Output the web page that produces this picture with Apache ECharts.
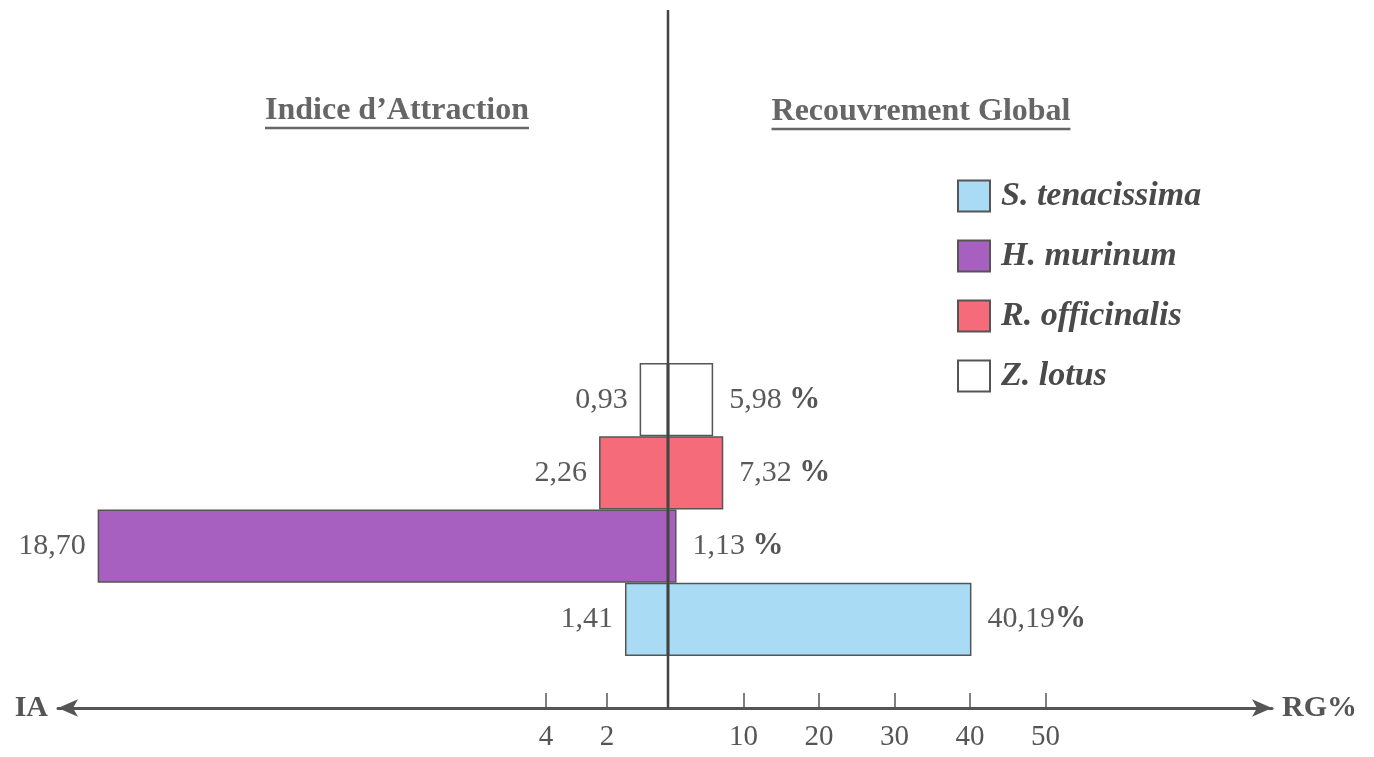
<!DOCTYPE html>
<html>
<head>
<meta charset="utf-8">
<script src="https://cdn.jsdelivr.net/npm/echarts@6/dist/echarts.min.js"></script>
<style>html,body{margin:0;padding:0;background:#fff;}#c{width:1374px;height:757px;}</style>
</head>
<body>
<div id="c"></div>
<script>
// ---- data ----
const categories = ['S. tenacissima', 'H. murinum', 'R. officinalis', 'Z. lotus'];
const iaValues = [1.41, 18.70, 2.26, 0.93];      // Indice d'Attraction (left)
const rgValues = [40.19, 1.13, 7.32, 5.98];      // Recouvrement Global % (right)
const colors = ['#A9DCF4', '#A760BF', '#F56B79', '#FFFFFF'];
const iaTicks = [2, 4];
const rgTicks = [10, 20, 30, 40, 50];
const titleLeft = 'Indice d\u2019Attraction';
const titleRight = 'Recouvrement Global';

const FONT = '"Liberation Serif", "Times New Roman", serif';
const fmt = v => v.toFixed(2).replace('.', ',');

const series = [];
categories.forEach((name, i) => {
  series.push({
    name, type: 'bar', xAxisIndex: 0, yAxisIndex: 0, stack: 'ia',
    barCategoryGap: '0%',
    data: categories.map((c, j) => j === i ? iaValues[i] : '-'),
    itemStyle: { color: colors[i], borderColor: '#555', borderWidth: 1.5 },
    label: { show: true, position: 'left', distance: 12,
      formatter: p => fmt(p.value),
      fontSize: 30, fontFamily: FONT, color: '#5a5a5a' }
  });
  series.push({
    name, type: 'bar', xAxisIndex: 1, yAxisIndex: 1, stack: 'rg',
    barCategoryGap: '0%',
    data: categories.map((c, j) => j === i ? rgValues[i] : '-'),
    itemStyle: { color: colors[i], borderColor: '#555', borderWidth: 1.5 },
    label: { show: true, position: 'right', distance: 16,
      formatter: p => '{n|' + fmt(p.value) + (p.value >= 10 ? '' : ' ') + '}{p|%}',
      rich: {
        n: { fontSize: 30, fontFamily: FONT, color: '#5a5a5a' },
        p: { fontSize: 31, fontFamily: FONT, color: '#555', fontWeight: 'bold' }
      } }
  });
});

const axisCommon = {
  type: 'value', min: 0, position: 'bottom', offset: 52,
  splitLine: { show: false },
  axisLine: { show: true, symbolSize: [13, 20],
    lineStyle: { color: '#555', width: 3 } },
  axisTick: { show: true, inside: true, length: 15, lineStyle: { color: '#555', width: 1.5 } },
  axisLabel: { fontSize: 29, fontFamily: FONT, color: '#555', margin: 15 },
  nameLocation: 'end', nameGap: 10,
  nameTextStyle: { fontSize: 30, fontWeight: 'bold', fontFamily: FONT, color: '#555' }
};

const chart = echarts.init(document.getElementById('c'), null, { renderer: 'canvas' });
const option = {
  backgroundColor: '#ffffff',
  animation: false,
  grid: [
    { left: 58, width: 610, top: 363, bottom: 101 },
    { left: 668, width: 604, top: 363, bottom: 101 }
  ],
  xAxis: [
    Object.assign({}, axisCommon, { gridIndex: 0, max: 20, inverse: true, name: 'IA',
      axisLine: Object.assign({}, axisCommon.axisLine, { symbol: ['arrow', 'none'] }),
      axisTick: Object.assign({}, axisCommon.axisTick, { customValues: iaTicks }),
      axisLabel: Object.assign({}, axisCommon.axisLabel, { customValues: iaTicks }) }),
    Object.assign({}, axisCommon, { gridIndex: 1, max: 80, name: 'RG%',
      axisLine: Object.assign({}, axisCommon.axisLine, { symbol: ['none', 'arrow'] }),
      axisTick: Object.assign({}, axisCommon.axisTick, { customValues: rgTicks }),
      axisLabel: Object.assign({}, axisCommon.axisLabel, { customValues: rgTicks }) })
  ],
  yAxis: [
    { type: 'category', gridIndex: 0, data: categories, show: false },
    { type: 'category', gridIndex: 1, data: categories, show: false }
  ],
  legend: {
    orient: 'vertical', left: 952, top: 174,
    data: categories, icon: 'rect', itemWidth: 32, itemHeight: 31, itemGap: 26,
    selectedMode: false,
    textStyle: { fontSize: 34, fontWeight: 'bold', fontStyle: 'italic', fontFamily: FONT, color: '#4a4a4a', padding: [0, 0, 0, 6] }
  },
  series
};
chart.setOption(option);

// center (zero) line and underlined titles
const x0 = chart.convertToPixel({ xAxisIndex: 1 }, 0);
const axisY = chart.getHeight() - 101 + 52;
const ctx = document.createElement('canvas').getContext('2d');
const tFont = 'bold 32px ' + FONT;
ctx.font = tFont;
function titleEls(text, cx, cy) {
  const w = ctx.measureText(text).width;
  return [
    { type: 'text', style: { text, x: cx, y: cy, font: tFont, fill: '#666', align: 'center', verticalAlign: 'middle' } },
    { type: 'line', shape: { x1: cx - w / 2, y1: cy + 17, x2: cx + w / 2, y2: cy + 17 }, style: { stroke: '#666', lineWidth: 2.5 } }
  ];
}
chart.setOption({
  graphic: [
    { type: 'line', z: 100, shape: { x1: x0, y1: 10, x2: x0, y2: axisY }, style: { stroke: '#444', lineWidth: 2.5 } },
    ...titleEls(titleLeft, 397, 111),
    ...titleEls(titleRight, 921, 112)
  ]
});
</script>
</body>
</html>
